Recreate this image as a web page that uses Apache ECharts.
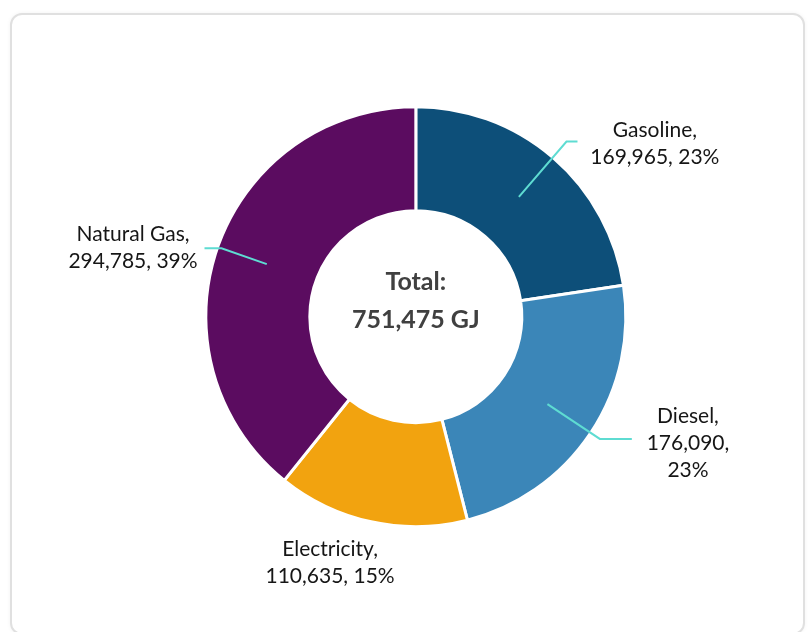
<!DOCTYPE html>
<html>
<head>
<meta charset="utf-8">
<script src="https://cdn.jsdelivr.net/npm/echarts@6/dist/echarts.min.js"></script>
<style>
  html, body { margin: 0; padding: 0; background: #ffffff; }
  #card {
    position: absolute; left: 10px; top: 13px; width: 795px; height: 622px;
    border: 2px solid #e0e0e0; border-radius: 12px; box-sizing: border-box;
    box-shadow: 0 0 4px rgba(0,0,0,0.05); background: #fff;
  }
  #chart { position: absolute; left: 0; top: 0; width: 809px; height: 632px; }
</style>
</head>
<body>
<div id="card"></div>
<div id="chart"></div>
<script>
// ---- data ----
const categories = ['Gasoline', 'Diesel', 'Electricity', 'Natural Gas'];
const values = [169965, 176090, 110635, 294785];
const unit = 'GJ';
const totalLabel = 'Total:';

// ---- styles ----
const colors = ['#0D4F79', '#3B86B8', '#F2A30F', '#5B0C60'];
const breakAfterValue = [false, true, false, false];
const labelAngleShift = [13.4, -8.6, 6.9, -5.7];   // degrees from slice mid-angle
const labelDistK = [1.405, 1.43, 1.243, 1.386];     // label centre distance / outer radius
const bendDistK = [1.10, 1.052, null, 0.981];       // leader bend distance / outer radius
const tailLen = [11, 32, 0, -17];                   // horizontal tail of leader
const leaderColor = '#5EDCD2';

const fmt = v => v.toLocaleString('en-US');
const total = values.reduce((a, b) => a + b, 0);

const chart = echarts.init(document.getElementById('chart'), null, { renderer: 'canvas' });

const seriesData = categories.map((name, i) => ({
  name: name,
  value: values[i],
  itemStyle: { color: colors[i] }
}));

function itemLayout(i) {
  return chart.getModel().getSeriesByIndex(0).getData().getItemLayout(i);
}

chart.setOption({
  animation: false,
  series: [
    {
      type: 'pie',
      center: ['51.4%', '50.1%'],
      radius: [106, 210],
      startAngle: 90,
      clockwise: true,
      percentPrecision: 0,
      itemStyle: { borderColor: '#ffffff', borderWidth: 3 },
      label: {
        show: true,
        position: 'outside',
        fontFamily: 'Lato',
        fontSize: 21,
        lineHeight: 27,
        color: '#161616',
        formatter: function (p) {
          const sep = breakAfterValue[p.dataIndex] ? ',\n' : ', ';
          return p.name + ',\n' + fmt(p.value) + sep + p.percent + '%';
        }
      },
      labelLine: { show: false },
      labelLayout: function (p) {
        const i = p.dataIndex;
        const lay = itemLayout(i);
        const mid = (lay.startAngle + lay.endAngle) / 2;
        const la = mid + labelAngleShift[i] * Math.PI / 180;
        const ld = lay.r * labelDistK[i];
        return {
          x: lay.cx + ld * Math.cos(la),
          y: lay.cy + ld * Math.sin(la),
          align: 'center',
          verticalAlign: 'middle'
        };
      },
      data: seriesData
    },
    {
      type: 'pie',
      center: ['51.4%', '50.1%'],
      radius: [0, 1],
      silent: true,
      itemStyle: { color: 'transparent' },
      labelLine: { show: false },
      label: {
        show: true,
        position: 'center',
        offset: [0, -16],
        fontFamily: 'Lato',
        fontWeight: 'bold',
        fontSize: 25,
        lineHeight: 38,
        color: '#404040',
        formatter: totalLabel + '\n' + fmt(total) + ' ' + unit
      },
      data: [{ name: 'total', value: total }]
    }
  ]
});

// leader lines drawn on top of the slices, from the library's slice layout
const leaders = [];
categories.forEach((name, i) => {
  if (bendDistK[i] === null) return;
  const lay = itemLayout(i);
  const mid = (lay.startAngle + lay.endAngle) / 2;
  const rm = (lay.r + lay.r0) / 2;
  const rb = lay.r * bendDistK[i];
  const p0 = [lay.cx + rm * Math.cos(mid), lay.cy + rm * Math.sin(mid)];
  const p1 = [lay.cx + rb * Math.cos(mid), lay.cy + rb * Math.sin(mid)];
  const p2 = [p1[0] + tailLen[i], p1[1]];
  leaders.push({
    type: 'polyline',
    z: 100,
    silent: true,
    shape: { points: [p0, p1, p2] },
    style: { stroke: leaderColor, lineWidth: 2, fill: null }
  });
});
chart.setOption({ graphic: leaders });
</script>
</body>
</html>
